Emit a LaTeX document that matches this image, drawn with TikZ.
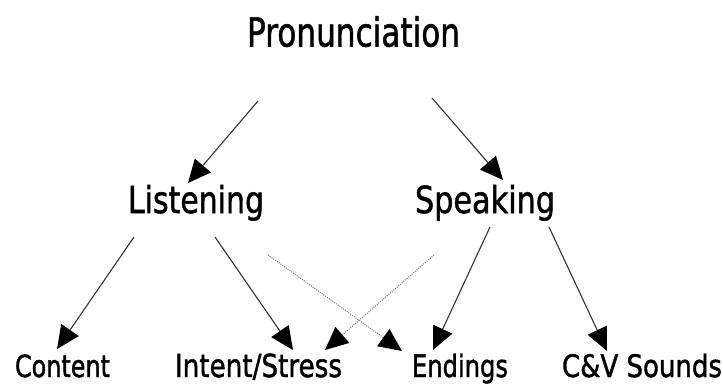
\documentclass[tikz,border=0pt]{standalone}
\usepackage{fontspec}
\newfontfamily\lblfont{DejaVu Sans}[FakeBold=1.5]
\usetikzlibrary{arrows.meta}
\newcommand{\fitlab}[3]{\resizebox{#1pt}{#2pt}{\lblfont #3}}
\begin{document}
\begin{tikzpicture}[x=1pt,y=-1pt,
  lab/.style={anchor=base west,inner sep=0pt,outer sep=0pt,text=black},
  arr/.style={-{Triangle[length=23pt,width=21pt,color=black]},line width=1.1pt,draw=black!80},
  darr/.style={-{Triangle[length=23pt,width=21pt,color=black]},line width=1.1pt,draw=black!50,dash pattern=on 1pt off 1.2pt}]
\useasboundingbox (0,0) rectangle (723,383);
\fill[white] (0,0) rectangle (723,383);
% nodes
\node[lab] (P) at (247,46.5) {\fitlab{213}{30.3}{Pronunciation}};
\node[lab] (L) at (128,213) {\fitlab{136}{28.2}{Listening}};
\node[lab] (S) at (415,213) {\fitlab{140}{28.2}{Speaking}};
\node[lab] (C) at (15,377) {\fitlab{95}{22.6}{Content}};
\node[lab] (I) at (175,377) {\fitlab{167}{23.5}{Intent/Stress}};
\node[lab] (E) at (412,377) {\fitlab{96}{23.5}{Endings}};
\node[lab] (V) at (562,377) {\fitlab{160}{23.5}{C\&V Sounds}};
% connector end points
\coordinate (P-L) at (258,101);   \coordinate (L-P) at (188,183);
\coordinate (P-S) at (432,98);    \coordinate (S-P) at (503,180);
\coordinate (L-C) at (134,237);   \coordinate (C-L) at (57,349);
\coordinate (L-I) at (215,237);   \coordinate (I-L) at (293,350);
\coordinate (L-E) at (268,255);   \coordinate (E-L) at (402,351);
\coordinate (S-I) at (434,255);   \coordinate (I-S) at (325,350);
\coordinate (S-E) at (490,227);   \coordinate (E-S) at (433,350);
\coordinate (S-V) at (549,227);   \coordinate (V-S) at (607,351);
% connectors
\draw[arr] (P-L) -- (L-P);
\draw[arr] (P-S) -- (S-P);
\draw[arr] (L-C) -- (C-L);
\draw[arr] (L-I) -- (I-L);
\draw[darr] (L-E) -- (E-L);
\draw[darr] (S-I) -- (I-S);
\draw[arr] (S-E) -- (E-S);
\draw[arr] (S-V) -- (V-S);
\end{tikzpicture}
\end{document}
